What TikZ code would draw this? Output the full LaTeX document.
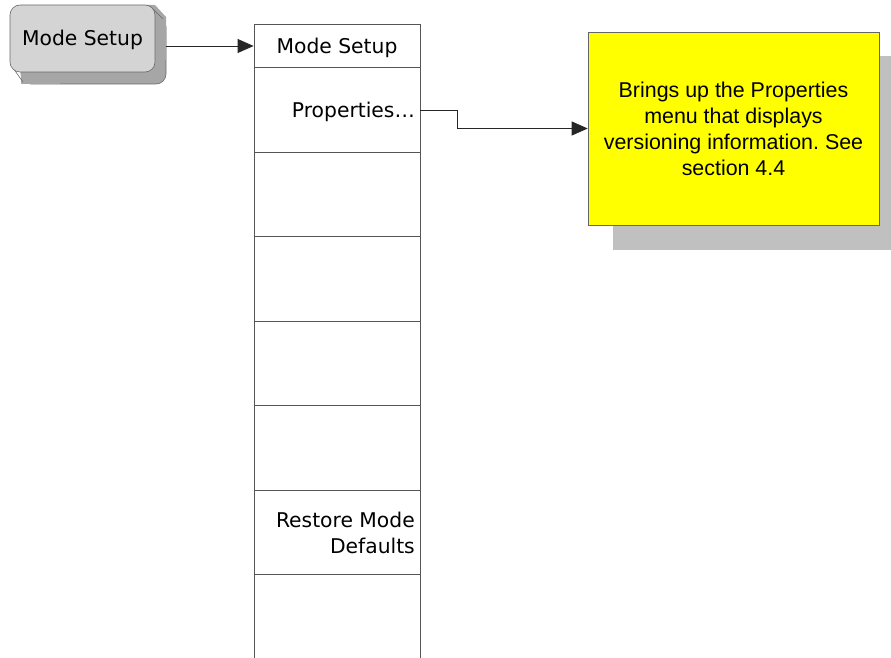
\documentclass[tikz,border=0pt]{standalone}
\usepackage{fontspec}
\setmainfont{Liberation Sans}
\newfontfamily\keyfont{DejaVu Sans}
\usetikzlibrary{arrows.meta}
\frenchspacing
\definecolor{keyface}{HTML}{D4D4D4}
\definecolor{keyside}{HTML}{A6A6A6}
\definecolor{keyline}{HTML}{6A6A6A}
\definecolor{colline}{HTML}{555555}
\definecolor{notebg}{HTML}{FFFF00}
\definecolor{noteshadow}{HTML}{C0C0C0}
\tikzset{
  keytext/.style={font=\keyfont\fontsize{20.3}{26}\selectfont, inner sep=0pt},
  conn/.style={draw=black!85, line width=0.8pt, -{Triangle[length=16pt,width=14pt]}},
  colrule/.style={draw=colline, line width=0.8pt},
}
\begin{document}
\begin{tikzpicture}[x=1pt,y=-1pt]
\useasboundingbox (0,0) rectangle (891,658);
% hardkey 3D button
\fill[keyside, draw=keyline, line width=0.6pt, rounded corners=10pt] (21,17) rectangle (166,84);
\fill[keyside] (145,5) -- (155,5) -- (166,17) -- (166,60) -- (155,60) -- cycle;
\fill[keyside] (10,60) -- (21,72) -- (21,84) -- (60,84) -- (60,60) -- cycle;
\draw[keyline, line width=0.6pt] (150,6) -- (163,19);
\draw[keyline, line width=0.6pt] (13,68) -- (23,82);
\node[draw=keyline, fill=keyface, line width=0.6pt, rounded corners=10pt,
      minimum width=145pt, minimum height=67pt, inner sep=0pt] (key) at (82.5,38.5) {};
\node[keytext] (keylbl) at (82.5,39.5) {Mode Setup};
\coordinate (keyout) at (166,46);
% menu column
\node[draw=colline, line width=0.8pt, minimum width=166pt, minimum height=43pt, inner sep=0pt] (head) at (337,45.5) {};
\node[keytext] at (337,47.5) {Mode Setup};
\draw[colrule] (254,67) -- (254,658);
\draw[colrule] (420,67) -- (420,658);
\foreach \yy in {152,236,321,405,490,574} {
  \draw[colrule] (254,\yy) -- (420,\yy);
}
\node[minimum width=166pt, minimum height=85pt, inner sep=0pt] (pcell) at (337,110) {};
\node[keytext, anchor=east] (plbl) at (415,111.5) {Properties\ldots};
\node[keytext, anchor=east, align=right] (rlbl) at (415,532.5) {Restore Mode\\Defaults};
% note
\fill[noteshadow] (613,56) rectangle (891,250);
\node[draw=black!60, fill=notebg, line width=0.6pt, minimum width=291pt, minimum height=193pt,
      inner sep=0pt, align=center, font=\fontsize{21.4}{26}\selectfont] (note) at (733.5,128.5)
      {Brings up the Properties\\menu that displays\\versioning information. See\\section 4.4};
% connectors
\draw[conn] (keyout) -- (head.west |- keyout);
\draw[conn] (pcell.east) -- ++(37,0) |- (note.west);
\end{tikzpicture}
\end{document}
